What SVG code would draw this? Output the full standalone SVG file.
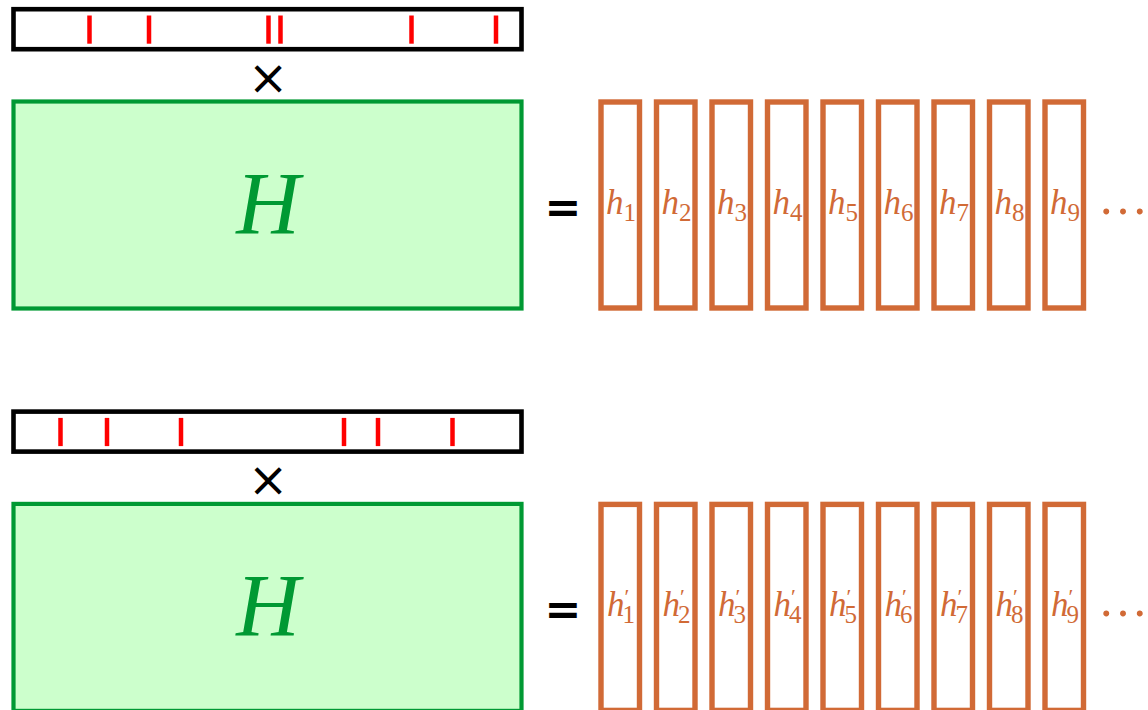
<svg xmlns="http://www.w3.org/2000/svg" width="1148" height="710" viewBox="0 0 1148 710">
<style>
.bar{fill:#fff;stroke:#000;stroke-width:4.6}
.tick{stroke:#ff0000;stroke-width:4.5}
.mat{fill:#ccffcc;stroke:#009933;stroke-width:4.2}
.col{fill:#fff;stroke:#d16a36;stroke-width:5.4}
.Hl{font-family:"Liberation Serif",serif;font-style:italic;font-size:88px;fill:#009933;text-anchor:middle}
.hl{font-family:"Liberation Serif",serif;font-style:italic;font-size:35px;fill:#d16a36;text-anchor:middle}
.sub{font-style:normal;font-size:25px}
.pr{font-style:normal;font-size:22px}
.times{font-family:"DejaVu Sans",sans-serif;font-size:48px;fill:#000;text-anchor:middle}
.eq{font-family:"DejaVu Sans",sans-serif;font-weight:bold;font-size:44px;fill:#000;text-anchor:middle}
.dots{font-family:"Liberation Serif",serif;font-size:50px;fill:#d16a36;text-anchor:middle}
</style>
<defs>
<rect id="c" class="col" x="0" y="0" width="38.5" height="206"/>
</defs>

<g id="top-mask">
<rect class="bar" x="13.5" y="9.2" width="508" height="40"/>
<line class="tick" x1="89.5" y1="15.5" x2="89.5" y2="43.7"/>
<line class="tick" x1="149" y1="15.5" x2="149" y2="43.7"/>
<line class="tick" x1="268.5" y1="15.5" x2="268.5" y2="43.7"/>
<line class="tick" x1="280.5" y1="15.5" x2="280.5" y2="43.7"/>
<line class="tick" x1="411.5" y1="15.5" x2="411.5" y2="43.7"/>
<line class="tick" x1="496" y1="15.5" x2="496" y2="43.7"/>
</g>
<g id="top-times"><text class="times" x="268" y="94">×</text></g>
<g id="top-H">
<rect class="mat" x="13.5" y="101.5" width="508" height="207"/>
<text class="Hl" x="268" y="233">H</text>
</g>
<g id="top-eq"><text class="eq" x="563" y="222">=</text></g>
<g id="top-cols">
<g id="h1"><use href="#c" x="601" y="102"/><text class="hl" x="621" y="214">h<tspan class="sub" dy="7">1</tspan></text></g>
<g id="h2"><use href="#c" x="656.5" y="102"/><text class="hl" x="676.5" y="214">h<tspan class="sub" dy="7">2</tspan></text></g>
<g id="h3"><use href="#c" x="712" y="102"/><text class="hl" x="732" y="214">h<tspan class="sub" dy="7">3</tspan></text></g>
<g id="h4"><use href="#c" x="767.5" y="102"/><text class="hl" x="787.5" y="214">h<tspan class="sub" dy="7">4</tspan></text></g>
<g id="h5"><use href="#c" x="823" y="102"/><text class="hl" x="843" y="214">h<tspan class="sub" dy="7">5</tspan></text></g>
<g id="h6"><use href="#c" x="878.5" y="102"/><text class="hl" x="898.5" y="214">h<tspan class="sub" dy="7">6</tspan></text></g>
<g id="h7"><use href="#c" x="934" y="102"/><text class="hl" x="954" y="214">h<tspan class="sub" dy="7">7</tspan></text></g>
<g id="h8"><use href="#c" x="989.5" y="102"/><text class="hl" x="1009.5" y="214">h<tspan class="sub" dy="7">8</tspan></text></g>
<g id="h9"><use href="#c" x="1045" y="102"/><text class="hl" x="1065" y="214">h<tspan class="sub" dy="7">9</tspan></text></g>
<text class="dots" x="1123" y="214">…</text>
</g>

<g id="bottom-mask">
<rect class="bar" x="13.5" y="411.6" width="508" height="40"/>
<line class="tick" x1="60.5" y1="417.9" x2="60.5" y2="446.1"/>
<line class="tick" x1="107" y1="417.9" x2="107" y2="446.1"/>
<line class="tick" x1="181" y1="417.9" x2="181" y2="446.1"/>
<line class="tick" x1="344" y1="417.9" x2="344" y2="446.1"/>
<line class="tick" x1="378" y1="417.9" x2="378" y2="446.1"/>
<line class="tick" x1="452.5" y1="417.9" x2="452.5" y2="446.1"/>
</g>
<g id="bottom-times"><text class="times" x="268" y="496">×</text></g>
<g id="bottom-H">
<rect class="mat" x="13.5" y="503.9" width="508" height="207"/>
<text class="Hl" x="268" y="635">H</text>
</g>
<g id="bottom-eq"><text class="eq" x="563" y="624">=</text></g>
<g id="bottom-cols">
<g id="hp1"><use href="#c" x="601" y="504.4"/><text class="hl" x="621" y="616.4">h<tspan class="pr" dy="-12">′</tspan><tspan class="sub" dx="-7" dy="19">1</tspan></text></g>
<g id="hp2"><use href="#c" x="656.5" y="504.4"/><text class="hl" x="676.5" y="616.4">h<tspan class="pr" dy="-12">′</tspan><tspan class="sub" dx="-7" dy="19">2</tspan></text></g>
<g id="hp3"><use href="#c" x="712" y="504.4"/><text class="hl" x="732" y="616.4">h<tspan class="pr" dy="-12">′</tspan><tspan class="sub" dx="-7" dy="19">3</tspan></text></g>
<g id="hp4"><use href="#c" x="767.5" y="504.4"/><text class="hl" x="787.5" y="616.4">h<tspan class="pr" dy="-12">′</tspan><tspan class="sub" dx="-7" dy="19">4</tspan></text></g>
<g id="hp5"><use href="#c" x="823" y="504.4"/><text class="hl" x="843" y="616.4">h<tspan class="pr" dy="-12">′</tspan><tspan class="sub" dx="-7" dy="19">5</tspan></text></g>
<g id="hp6"><use href="#c" x="878.5" y="504.4"/><text class="hl" x="898.5" y="616.4">h<tspan class="pr" dy="-12">′</tspan><tspan class="sub" dx="-7" dy="19">6</tspan></text></g>
<g id="hp7"><use href="#c" x="934" y="504.4"/><text class="hl" x="954" y="616.4">h<tspan class="pr" dy="-12">′</tspan><tspan class="sub" dx="-7" dy="19">7</tspan></text></g>
<g id="hp8"><use href="#c" x="989.5" y="504.4"/><text class="hl" x="1009.5" y="616.4">h<tspan class="pr" dy="-12">′</tspan><tspan class="sub" dx="-7" dy="19">8</tspan></text></g>
<g id="hp9"><use href="#c" x="1045" y="504.4"/><text class="hl" x="1065" y="616.4">h<tspan class="pr" dy="-12">′</tspan><tspan class="sub" dx="-7" dy="19">9</tspan></text></g>
<text class="dots" x="1123" y="616.4">…</text>
</g>
</svg>
